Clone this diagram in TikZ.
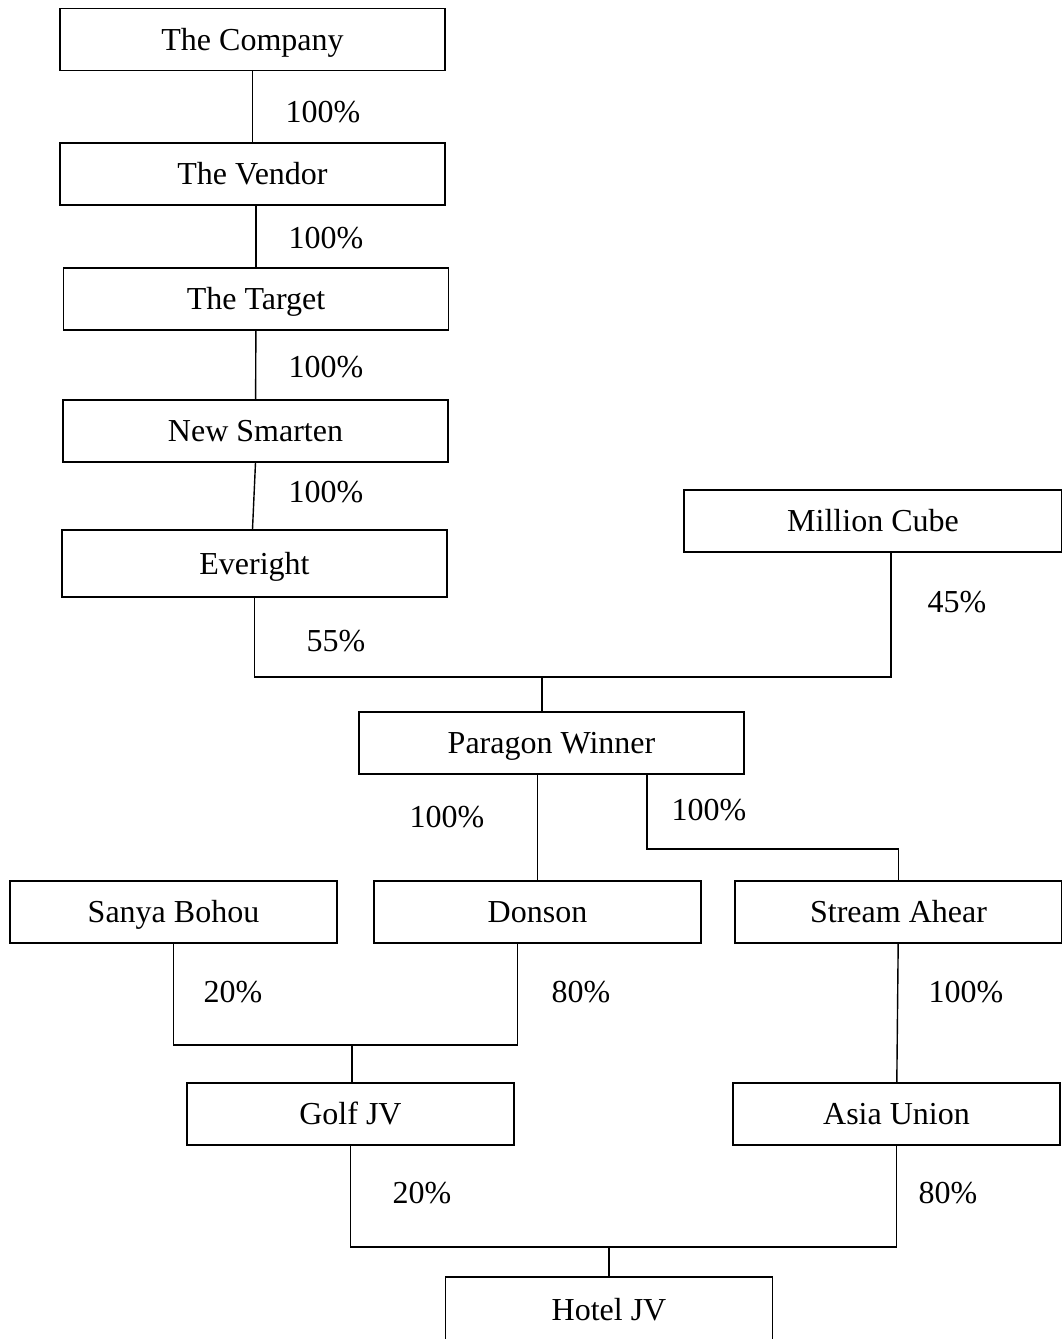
\documentclass[tikz,border=0pt]{standalone}
\usepackage{fontspec}
\setmainfont{Liberation Serif}
\begin{document}
\begin{tikzpicture}[
	x=1pt, y=-1pt,
	firm/.style={draw, line width=1.4pt, minimum height=62pt, inner sep=0pt, text height=28pt, text depth=7pt, font=\fontsize{32}{37}\selectfont},
	wide/.style={firm, minimum width=385pt},
	narrow/.style={firm, minimum width=327pt},
	link/.style={line width=1.4pt},
	share/.style={font=\fontsize{32}{37}\selectfont}
	]
	\useasboundingbox (0,0) rectangle (1062,1339);
	% holding chain
	\node[wide] (company) at (252.5,39.5) {The Company};
	\node[wide] (vendor) at (252.5,174) {The Vendor};
	\node[wide] (target) at (256,299) {The Target};
	\node[wide] (smarten) at (255.5,431) {New Smarten};
	\node[wide, minimum height=67pt] (everight) at (254.5,563.5) {Everight};
	\node[firm, minimum width=378pt] (million) at (873,521) {Million Cube};
	\node[wide] (paragon) at (551.5,743) {Paragon Winner};
	% subsidiaries
	\node[narrow] (sanya) at (173.5,912) {Sanya Bohou};
	\node[narrow] (donson) at (537.5,912) {Donson};
	\node[narrow] (stream) at (898.5,912) {Stream Ahear};
	\node[narrow] (golf) at (350.5,1114) {Golf JV};
	\node[narrow] (asia) at (896.5,1114) {Asia Union};
	\node[narrow, minimum height=66pt] (hotel) at (609,1310) {Hotel JV};
	% junctions
	\coordinate (j1) at (542,677);
	\coordinate (s1) at (647,849);
	\coordinate (j2) at (352,1045);
	\coordinate (j3) at (609,1247);
	% connectors
	\draw[link] (company) -- (vendor);
	\draw[link] (target.north) -- (target.north |- vendor.south);
	\draw[link] (target) -- (smarten);
	\draw[link] (smarten.south) -- ([xshift=-2pt]everight.north);
	\draw[link] (everight.south) |- (j1) -| ([xshift=18pt]million.south);
	\draw[link] (j1) -- (j1 |- paragon.north);
	\draw[link] (donson.north) -- (donson.north |- paragon.south);
	\draw[link] (s1 |- paragon.south) -- (s1) -| (stream.north);
	\draw[link] (sanya.south) |- (j2) -| ([xshift=-20pt]donson.south);
	\draw[link] (j2) -- (j2 |- golf.north);
	\draw[link] (stream) -- (asia);
	\draw[link] (golf.south) |- (j3) -| (asia.south);
	\draw[link] (j3) -- (hotel);
	% shareholdings
	\node[share] (p1) at (323,112) {100\%};
	\node[share] (p2) at (326,238) {100\%};
	\node[share] (p3) at (326,367) {100\%};
	\node[share] (p4) at (326,492) {100\%};
	\node[share] (p5) at (336,641) {55\%};
	\node[share] (p6) at (957,602) {45\%};
	\node[share] (p7) at (447,817) {100\%};
	\node[share] (p8) at (709,810) {100\%};
	\node[share] (p9) at (233,992) {20\%};
	\node[share] (p10) at (581,992) {80\%};
	\node[share] (p11) at (966,992) {100\%};
	\node[share] (p12) at (422,1193) {20\%};
	\node[share] (p13) at (948,1193) {80\%};
\end{tikzpicture}
\end{document}
